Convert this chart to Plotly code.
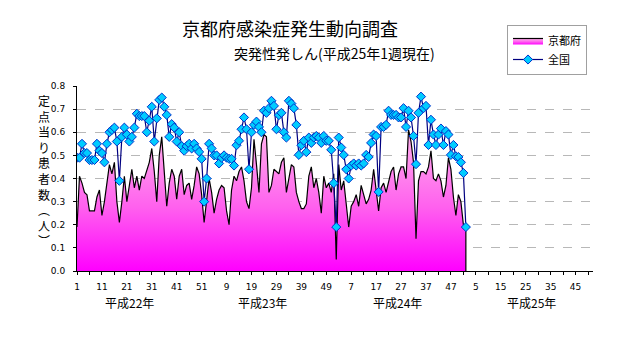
import plotly.graph_objects as go

# Weekly reports per sentinel site: exanthem subitum, Kyoto prefecture vs. whole country
# Weeks run continuously from 2010 week 1 (index 1) through 2013 week 1 (index 157)
kyoto = [
    0.19, 0.41, 0.38, 0.34, 0.33, 0.26, 0.26, 0.26, 0.32, 0.35,
    0.24, 0.30, 0.38, 0.46, 0.42, 0.47, 0.30, 0.21, 0.30, 0.41,
    0.30, 0.37, 0.44, 0.36, 0.41, 0.35, 0.41, 0.40, 0.44, 0.47,
    0.53, 0.43, 0.30, 0.50, 0.58, 0.43, 0.28, 0.38, 0.44, 0.41,
    0.31, 0.41, 0.44, 0.33, 0.37, 0.38, 0.31, 0.37, 0.45, 0.42,
    0.33, 0.21, 0.31, 0.40, 0.34, 0.25, 0.31, 0.35, 0.37, 0.36,
    0.26, 0.20, 0.35, 0.41, 0.39, 0.43, 0.45, 0.39, 0.30, 0.27,
    0.36, 0.57, 0.46, 0.34, 0.55, 0.59, 0.58, 0.34, 0.37, 0.44,
    0.43, 0.42, 0.47, 0.49, 0.34, 0.41, 0.46, 0.45, 0.34, 0.30,
    0.27, 0.27, 0.29, 0.41, 0.45, 0.36, 0.40, 0.34, 0.25, 0.41,
    0.36, 0.38, 0.34, 0.42, 0.05, 0.46, 0.35, 0.39, 0.30, 0.19,
    0.28, 0.30, 0.33, 0.28, 0.37, 0.33, 0.29, 0.31, 0.35, 0.44,
    0.35, 0.26, 0.36, 0.38, 0.34, 0.39, 0.43, 0.45, 0.35, 0.42,
    0.45, 0.45, 0.40, 0.61, 0.56, 0.47, 0.14, 0.39, 0.43, 0.43,
    0.42, 0.45, 0.52, 0.40, 0.39, 0.42, 0.39, 0.32, 0.37, 0.49,
    0.44, 0.32, 0.24, 0.33, 0.30, 0.20, 0.20,
]

national = [
    0.49, 0.49, 0.55, 0.51, 0.51, 0.48, 0.48, 0.48, 0.55, 0.52,
    0.51, 0.47, 0.55, 0.60, 0.61, 0.62, 0.56, 0.39, 0.58, 0.62,
    0.59, 0.56, 0.58, 0.62, 0.68, 0.67, 0.67, 0.67, 0.60, 0.65,
    0.71, 0.56, 0.66, 0.74, 0.75, 0.71, 0.675, 0.58, 0.635, 0.62,
    0.56, 0.60, 0.54, 0.52, 0.54, 0.55, 0.53, 0.55, 0.53, 0.515,
    0.485, 0.30, 0.40, 0.55, 0.53, 0.50, 0.50, 0.465, 0.49, 0.50,
    0.49, 0.485, 0.485, 0.456, 0.544, 0.563, 0.613, 0.664, 0.613, 0.44,
    0.60, 0.632, 0.646, 0.623, 0.60, 0.693, 0.684, 0.704, 0.736, 0.714,
    0.613, 0.674, 0.684, 0.60, 0.577, 0.736, 0.724, 0.704, 0.632, 0.502,
    0.544, 0.563, 0.514, 0.577, 0.554, 0.577, 0.584, 0.577, 0.554, 0.584,
    0.563, 0.563, 0.524, 0.38, 0.19, 0.577, 0.534, 0.502, 0.44, 0.40,
    0.456, 0.465, 0.456, 0.465, 0.456, 0.465, 0.502, 0.493, 0.554, 0.59,
    0.584, 0.342, 0.623, 0.623, 0.632, 0.693, 0.675, 0.675, 0.675, 0.664,
    0.664, 0.704, 0.623, 0.693, 0.664, 0.584, 0.462, 0.684, 0.754, 0.704,
    0.714, 0.545, 0.654, 0.59, 0.545, 0.59, 0.616, 0.545, 0.605, 0.59,
    0.502, 0.545, 0.496, 0.493, 0.47, 0.424, 0.19,
]

# Axis spans four reporting years of 52 weeks each
total_weeks = 208
week_tick_labels = ["1", "11", "21", "31", "41", "51", "9", "19", "29", "39", "49",
                    "7", "17", "27", "37", "47", "5", "15", "25", "35", "45"]
year_labels = ["平成22年", "平成23年", "平成24年", "平成25年"]
year_label_pos = [22, 75.5, 129.5, 183.5]

weeks = list(range(1, len(kyoto) + 1))

W, H = 632, 348
L, R, T, B = 77, 593, 86, 271   # plot area in pixels


def px(x):
    return (x - L) / (R - L)


def py(y):
    return (B - y) / (B - T)


font_jp = "Noto Sans CJK JP"

fig = go.Figure()

# Kyoto: gradient-filled area with black outline, closed down to the baseline
fig.add_trace(go.Scatter(
    x=weeks + [weeks[-1]],
    y=kyoto + [0],
    mode="lines",
    name="京都府",
    line=dict(color="black", width=1.2),
    fill="tozeroy",
    fillgradient=dict(type="vertical",
                      colorscale=[[0, "#ff00ff"], [0.45, "#ff60ee"], [1, "#ffb2ec"]]),
    hoverinfo="skip",
))

# Whole country: navy line with cyan diamonds
fig.add_trace(go.Scatter(
    x=weeks,
    y=national,
    mode="lines+markers",
    name="全国",
    line=dict(color="#000080", width=1.2),
    marker=dict(symbol="diamond", size=7, color="#00ccff",
                line=dict(color="#0033cc", width=1)),
))

tickvals = list(range(1, total_weeks, 5))
ticktext = []
k = 0
for v in tickvals:
    if (v - 1) % 10 == 0 and k < len(week_tick_labels):
        ticktext.append(week_tick_labels[k])
        k += 1
    else:
        ticktext.append("")

fig.update_xaxes(
    range=[1, total_weeks],
    tickmode="array", tickvals=tickvals, ticktext=ticktext,
    ticks="outside", ticklen=3, tickcolor="black",
    showline=True, linecolor="black", linewidth=1,
    showgrid=False, zeroline=False,
    tickfont=dict(family="DejaVu Sans", size=9, color="black"),
    ticklabelstandoff=4,
)
fig.update_yaxes(
    range=[0, 0.8], dtick=0.1, tickformat=".1f",
    ticks="outside", ticklen=3, tickcolor="black",
    showline=True, linecolor="black", linewidth=1,
    showgrid=True, gridcolor="#b8b8b8", griddash="dash", gridwidth=1,
    zeroline=False,
    tickfont=dict(family="DejaVu Sans", size=9, color="black"),
    ticklabelstandoff=6,
)

annotations = [
    dict(text="京都府感染症発生動向調査", x=px(290), y=py(28), xref="paper", yref="paper",
         showarrow=False, font=dict(family=font_jp, size=18, color="black"),
         xanchor="center", yanchor="middle"),
    dict(text="突発性発しん(平成25年1週現在)", x=px(334), y=py(53), xref="paper", yref="paper",
         showarrow=False, font=dict(family=font_jp, size=14, color="black"),
         xanchor="center", yanchor="middle"),
    dict(text="<br>".join(list("定点当り患者数︵人︶")), x=px(44), y=py(170),
         xref="paper", yref="paper", showarrow=False,
         font=dict(family=font_jp, size=12, color="black"),
         xanchor="center", yanchor="middle"),
]
for lbl, pos in zip(year_labels, year_label_pos):
    annotations.append(dict(text=lbl, x=pos, y=py(302), xref="x", yref="paper",
                            showarrow=False, xanchor="center", yanchor="middle",
                            font=dict(family=font_jp, size=12, color="black")))

fig.update_layout(
    width=W, height=H,
    margin=dict(l=L, r=W - R, t=T, b=H - B),
    paper_bgcolor="white", plot_bgcolor="white",
    showlegend=True,
    legend=dict(x=px(507), y=py(25), xanchor="left", yanchor="top",
                bgcolor="white", bordercolor="#a0a0a0", borderwidth=1,
                font=dict(family=font_jp, size=11, color="black"),
                tracegroupgap=0, itemwidth=30),
    annotations=annotations,
)

fig.write_html("out.html")
